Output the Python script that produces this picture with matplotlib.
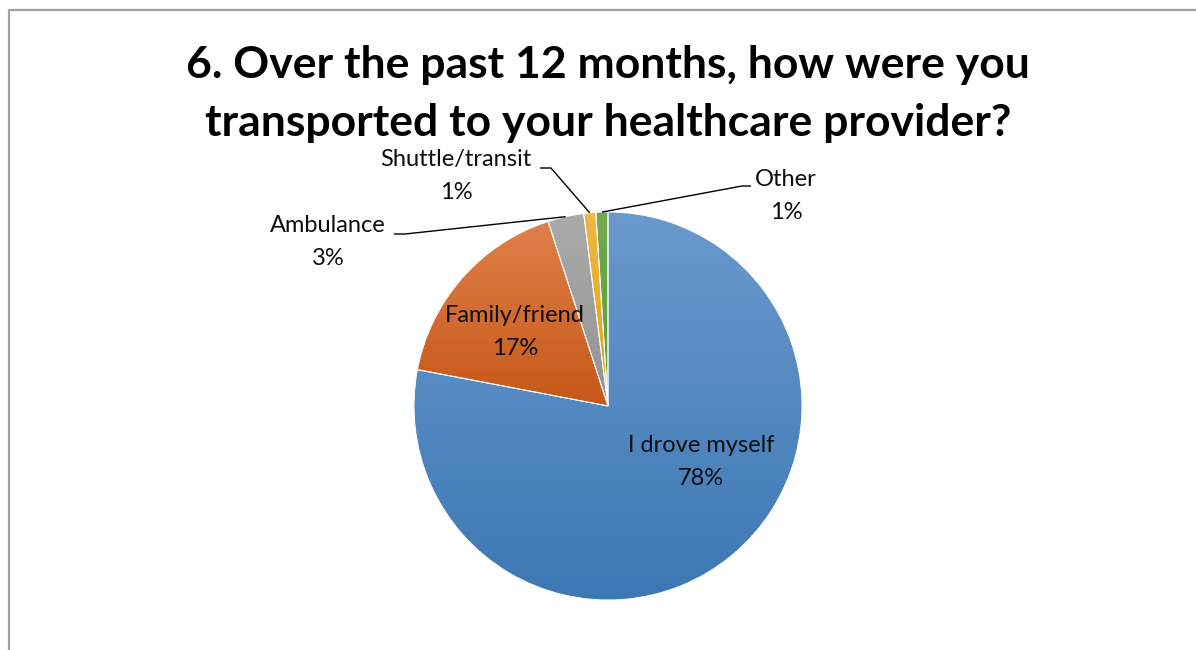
import numpy as np
import matplotlib
matplotlib.use("Agg")
import matplotlib.pyplot as plt
from matplotlib.colors import LinearSegmentedColormap

# survey answers, share of respondents (%)
labels = ["I drove myself", "Family/friend", "Ambulance", "Shuttle/transit", "Other"]
values = [78, 17, 3, 1, 1]
pct_labels = ["78%", "17%", "3%", "1%", "1%"]

# gradient colours per slice (top, bottom)
slice_colors = [
    ("#6a99cd", "#3c78b4"),
    ("#e0804a", "#c65818"),
    ("#ababab", "#939393"),
    ("#f0b845", "#e0a30a"),
    ("#74aa52", "#5e9a3a"),
]

W, H = 1196, 650
FONT = "Lato"


def py(y):
    # pixel row -> data y (y axis points up)
    return H - y


fig = plt.figure(figsize=(W / 100, H / 100), dpi=100)
ax = fig.add_axes([0, 0, 1, 1])

cx, cy, r = 608, py(406), 194
wedges, _ = ax.pie(values, startangle=90, counterclock=False,
                   center=(cx, cy), radius=r,
                   colors=[c[0] for c in slice_colors],
                   wedgeprops=dict(linewidth=0.7, edgecolor="white"))

grad = np.linspace(0, 1, 256).reshape(-1, 1)
for w, (top, bot) in zip(wedges, slice_colors):
    ext = w.get_path().get_extents()
    cmap = LinearSegmentedColormap.from_list("g", [bot, top])
    im = ax.imshow(grad, extent=(ext.x0, ext.x1, ext.y0, ext.y1), origin="lower",
                   cmap=cmap, aspect="auto", zorder=1, interpolation="bilinear")
    im.set_clip_path(w)
    w.set_facecolor("none")
    w.set_zorder(2)


def edge_point(w):
    mid = np.deg2rad((w.theta1 + w.theta2) / 2)
    return cx + r * np.cos(mid), cy + r * np.sin(mid)


txt = dict(fontsize=17, family=FONT, color="#0d0d0d", ha="center", va="center",
           linespacing=1.65, zorder=4)

# labels inside the big slices
ax.text(701, py(462), f"{labels[0]}\n{pct_labels[0]}", **txt)
ax.text(515, py(332), f"{labels[1]}\n{pct_labels[1]}", **txt)

# outside labels with leader lines
outside = [
    (2, (328, 242), [(405, 234), (394, 234)]),
    (3, (456, 176), [(551, 168), (540, 168)]),
    (4, (786, 196), [(742, 186), (751, 186)]),
]
for i, (tx, ty), pts in outside:
    ex, ey = edge_point(wedges[i])
    xs = [ex] + [p[0] for p in pts]
    ys = [ey] + [py(p[1]) for p in pts]
    ax.plot(xs, ys, color="black", lw=1.0, zorder=3, solid_capstyle="butt")
    ax.text(tx, py(ty), f"{labels[i]}\n{pct_labels[i]}", **txt)

ax.text(608, py(94), "6. Over the past 12 months, how were you\ntransported to your healthcare provider?",
        fontsize=32, family=FONT, fontweight="bold", ha="center", va="center",
        linespacing=1.52, color="black")

# chart frame (left and top edges visible)
ax.plot([9, 9, W + 5], [py(H + 5), py(10), py(10)], color="#a0a0a0", lw=1.6, zorder=5)

ax.set_xlim(0, W)
ax.set_ylim(0, H)
ax.set_aspect("equal")
ax.axis("off")

fig.savefig("out.png", dpi=100, facecolor="white")
